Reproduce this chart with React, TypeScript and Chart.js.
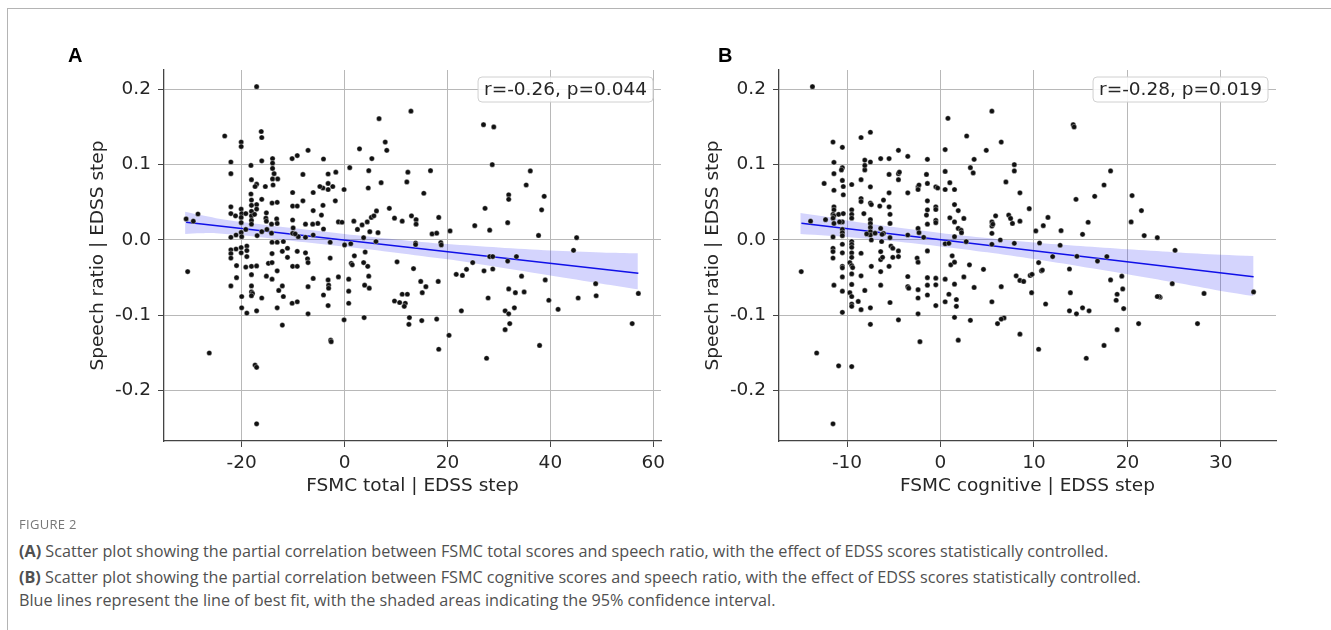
import React, { useEffect, useRef } from "react";
import { Chart, registerables } from "chart.js";

Chart.register(...registerables);

// ---------------- DATA ----------------
const yTicks = [-0.2, -0.1, 0, 0.1, 0.2];
const xTicksA = [-20, 0, 20, 40, 60];
const xTicksB = [-10, 0, 10, 20, 30];

const statsA = "r=-0.26, p=0.044";
const statsB = "r=-0.28, p=0.019";

const pointsA: [number, number][] = [
  [-20.1,0.130],[-20.1,0.124],[-22.1,0.1035],[-22.1,0.088],[-18.2,0.099],[-16.1,0.105],
  [-14,0.108],[-14,0.102],[-14,0.095],[-13.7,0.088],[-14,0.081],[-13,0.081],
  [-10.2,0.108],[-9.2,0.112],[-7.1,0.119],[-4.1,0.1075],[-8.1,0.087],
  [-3.2,0.0876],[-1.7,0.090],[-3.2,0.075],[-2.3,0.071],[-3.2,0.067],[-4.2,0.069],[-4.8,0.071],
  [1.0,0.096],[2.9,0.121],[5.3,0.108],[4.7,0.092],[7.9,0.130],[8.2,0.119],[7.1,0.076],[4.6,0.069],[12.3,0.090],[12.1,0.077],[-0.1,0.067],
  [-18.1,0.080],[-17.1,0.074],[-17.4,0.071],[-15.4,0.071],[-13.9,0.073],
  [-18.2,0.061],[-18.1,0.053],[-16.1,0.054],[-17.1,0.047],[-18.1,0.046],[-17.1,0.041],[-18.1,0.038],
  [-22.1,0.044],[-22.1,0.035],[-21.2,0.032],[-20.1,0.041],[-20,0.035],[-20.1,0.030],[-19.2,0.035],[-18.1,0.032],[-17.5,0.034],
  [-20.1,0.023],[-19.2,0.014],[-20.1,0.010],[-22.1,0.0035],[-21.1,0.0066],[-20,0.0044],[-18.1,0.026],[-18.1,0.021],
  [-15.2,0.036],[-15.3,0.029],[-15.2,0.025],[-15.1,0.014],[-16.1,0.011],[-17,0.0058],[-14.2,0.021],[-14.2,0.009],
  [-13.1,0.050],[-14.1,0.049],[-13.2,0.028],[-13.1,0.022],
  [-10.1,0.063],[-10.1,0.045],[-9.2,0.045],[-8.1,0.052],[-6.1,0.063],[-6.1,0.039],[-4.2,0.046],[-4.1,0.0146],[-5.2,0.022],[-6.2,0.021],[-7.6,0.021],[-10.1,0.0265],[-10,0.016],[-10.1,0.0088],[-9.0,0.0044],[-9.6,0.008],[-7.6,0.0035],[-6.1,0.0066],
  [-1.8,0.052],[-4.5,0.033],[-1.2,0.024],[-0.5,0.0235],
  [1.8,0.025],[2.5,0.014],[3.4,0.020],[4.4,0.024],[5.2,0.030],[5.7,0.032],[6.2,0.0385],[4.9,0.011],[6.5,0.0097],[8.7,0.042],[9.7,0.029],[11.2,0.025],[13,0.032],
  [3.7,0.003],[6.1,-0.002],[1.2,-0.005],[0.0,-0.0066],[-2.8,-0.003],
  [-22.1,-0.013],[-22.1,-0.018],[-22.1,-0.024],[-21.1,-0.012],[-20.1,-0.010],[-20.1,-0.017],[-19,-0.008],[-19,-0.014],[-19,-0.022],[-21,-0.034],[-21,-0.050],[-22.1,-0.061],
  [-19.2,-0.036],[-18.1,-0.035],[-17.1,-0.0345],[-18.1,-0.046],[-18.1,-0.061],[-18.1,-0.069],[-17.9,-0.071],[-18.1,-0.074],[-16.1,-0.077],[-17.1,-0.094],[-19,-0.097],
  [-14.8,-0.031],[-14.1,-0.030],[-14.1,-0.018],[-13.1,-0.003],[-14.1,-0.003],[-11.9,-0.002],[-12.1,-0.015],[-11.1,-0.011],[-11.1,-0.023],[-12.1,-0.061],[-12.8,-0.067],[-11.9,-0.075],[-13.1,-0.041],[-14.1,-0.052],[-15.2,-0.048],[-13.1,-0.090],[-12.1,-0.113],[-10.2,-0.084],[-9.2,-0.082],[-7.1,-0.098],
  [-10.1,-0.035],[-9.2,-0.035],[-9.2,-0.015],[-7.6,-0.017],[-7.2,-0.025],[-7.1,-0.030],[-6.1,-0.051],[-7.1,-0.062],
  [-4.1,-0.073],[-3.2,-0.053],[-3.1,-0.060],[-3.1,-0.064],[-3.2,-0.087],[-2.8,-0.024],[-2.7,-0.133],[-1.2,-0.049],[-0.1,-0.106],[0.8,-0.052],[0.8,-0.068],[0.8,-0.084],[1.3,-0.031],[1.9,-0.021],[1.5,-0.033],[3.7,-0.030],[3.9,-0.060],[4.5,-0.035],[4.7,-0.048],[4.8,-0.064],[3.8,-0.103],[10.2,-0.029],[9.7,-0.081],[10.7,-0.083],[11.2,-0.072],[12.2,-0.072],[11.8,-0.084],[11.6,-0.088],[12.6,-0.103],[12.5,-0.112],[13.4,-0.038],
  [-30.8,0.028],[-29.4,0.025],[-28.5,0.0345],[-17.1,0.2035],[-23.3,0.138],[-16.2,0.144],[-16.1,0.136],[6.7,0.161],
  [12.9,0.171],[16.7,0.092],[15.4,0.062],[27.0,0.153],[29.0,0.150],[28.7,0.100],[36.1,0.0916],[35.3,0.073],[31.9,0.060],[31.9,0.054],[38.8,0.058],[38.3,0.040],[27.3,0.042],[31.7,0.023],[28.2,0.013],[25.3,0.019],[20.5,0.012],[37.7,0.006],[45.1,0.003],[44.5,-0.0137],[13.9,0.027],[13.9,0.021],[18.3,0.030],[17.0,0.008],[17.9,0.009],[13.8,-0.004],[13.8,-0.006],[18.7,-0.0035],[18.8,-0.0066],[4.0,-0.016],[28.2,-0.022],[28.8,-0.022],[33.4,-0.022],
  [15.0,-0.107],[17.9,-0.105],[18.3,-0.145],[14.8,-0.055],[15.1,-0.070],[15.8,-0.062],[18.2,-0.055],[20.3,-0.1265],[21.7,-0.0456],[22.9,-0.047],[23.7,-0.039],[24.9,-0.030],[22.7,-0.094],[27.1,-0.041],[27.9,-0.077],[27.6,-0.157],[28.8,-0.0385],[31.7,-0.028],[34.4,-0.048],[31.9,-0.065],[33.2,-0.070],[34.9,-0.069],[31.2,-0.094],[31.9,-0.098],[33.0,-0.090],[32.1,-0.111],[31.2,-0.119],[37.9,-0.140],[39.0,-0.053],[39.7,-0.080],[41.5,-0.092],[45.4,-0.077],[48.8,-0.058],[48.9,-0.074],[55.9,-0.111],[57.1,-0.071],
  [-30.5,-0.042],[-26.3,-0.150],[-17.4,-0.166],[-17.1,-0.169],[-17.1,-0.244],[-2.6,-0.135],[-20,-0.075],[-20,-0.090],
];

const pointsB: [number, number][] = [
  [-11.5,0.130],[-10.5,0.123],[-11.4,0.103],[-10.5,0.096],[-10.6,0.093],[-11.4,0.088],[-12.45,0.075],
  [-10.5,0.079],[-10.4,0.071],[-11.4,0.066],[-10.4,0.060],
  [-11.4,0.044],[-11.4,0.040],[-11.5,0.034],[-11.4,0.032],[-11.5,0.029],[-10.9,0.034],[-10.4,0.035],[-10.5,0.024],[-10.8,0.024],[-11.4,0.022],[-12.3,0.027],
  [-11.5,0.004],[-10.5,0.014],[-10.5,0.0097],[-10.5,0.0057],[-9.5,0.040],[-9.5,0.034],[-9.5,0.029],
  [-8.2,0.035],[-8.5,0.055],[-8.5,0.051],[-7.5,0.049],[-7.4,0.047],[-6.5,0.045],[-6.1,0.053],[-5.5,0.044],[-5.4,0.034],[-5.4,0.022],[-6.4,0.0154],[-6.1,0.0088],[-5.4,0.003],[-6.25,0.0075],[-6.3,-0.002],
  [-7.5,0.027],[-7.5,0.022],[-7.5,0.0167],[-7.5,0.011],[-7.5,0.0066],[-7.4,0.0],[-7.9,0.008],[-7.0,0.009],
  [-9.5,0.0736],[-8.5,0.080],[-8.1,0.093],[-8.1,0.099],[-7.5,0.1035],[-7.5,0.0705],[-6.4,0.108],[-5.5,0.108],[-4.5,0.119],[-3.5,0.111],[-5.5,0.087],[-4.5,0.088],[-4.4,0.090],[-4.5,0.080],[-5.5,0.0626],[-3.5,0.0626],[-2.4,0.0705],[-2.3,0.073],[-2.4,0.067],[-1.4,0.107],[-1.5,0.087],[-1.4,0.075],[-0.5,0.0705],[-0.3,0.069],[-1.4,0.052],[-1.4,0.040],[-0.5,0.044],[-0.5,0.0405],[-0.5,0.026],[-0.5,0.023],[-1.5,0.033],[-2.4,0.0154],[-2.3,0.0097],[-3.5,0.0066],[-1.8,0.0035],[-1.4,0.021],
  [0.5,0.120],[0.5,0.091],[1.0,0.076],[0.5,0.067],[1.5,0.067],[1.5,0.047],[1.9,0.039],[1.0,0.0295],[1.5,0.024],[2.5,0.0286],[1.9,0.0154],[2.2,0.013],[2.25,0.0097],[0.5,-0.005],[0.9,-0.0044],[1.5,0.0044],
  [3.2,0.096],[3.5,0.089],[3.6,0.107],[4.9,0.119],[6.5,0.130],[7.9,0.100],[7.9,0.0916],[7.0,0.077],[8.5,0.0626],[7.7,0.022],[5.5,0.024],[5.5,0.0185],[5.9,0.032],[5.5,0.0088],[7.3,0.033],[7.5,0.0286],[6.4,0.0],[7.9,-0.0044],[5.5,-0.0057],[4.6,-0.039],[2.75,-0.0022],
  [-11.5,-0.011],[-11.5,-0.0154],[-11.5,-0.024],[-11.4,-0.060],
  [-10.5,-0.0057],[-10.5,-0.017],[-10.5,-0.035],[-10.5,-0.037],[-10.5,-0.049],[-10.5,-0.068],[-10.5,-0.096],
  [-9.5,-0.002],[-9.5,-0.0057],[-9.5,-0.0097],[-9.5,-0.017],[-9.5,-0.023],[-9.7,-0.030],[-9.5,-0.034],[-9.4,-0.0366],[-9.5,-0.045],[-9.5,-0.059],[-9.7,-0.070],[-9.5,-0.075],[-9.5,-0.085],[-9.5,-0.088],
  [-8.8,-0.0815],[-8.5,-0.0925],[-8.5,-0.0476],[-8.1,-0.067],[-7.5,-0.090],[-7.5,-0.112],
  [-8.5,-0.0176],[-7.4,-0.035],[-6.4,-0.042],[-6.4,-0.060],[-6.4,-0.0154],[-5.5,-0.035],[-5.4,-0.083],[-6.4,-0.026],[-6.2,-0.023],[-5.3,-0.008],[-5.1,-0.011],[-5.1,-0.023],[-4.5,-0.0145],[-4.5,-0.022],[-3.5,-0.0485],[-3.5,-0.062],[-3.4,-0.064],[-4.5,-0.106],
  [-2.5,-0.024],[-2.4,-0.0295],[-2.4,-0.066],[-2.4,-0.077],[-2.4,-0.098],
  [-1.4,-0.0145],[-1.4,-0.050],[-1.4,-0.060],[-1.4,-0.073],[-0.5,-0.0507],[-0.5,-0.0595],[-0.5,-0.087],
  [0.5,-0.052],[0.5,-0.082],[0.9,-0.072],[1.1,-0.033],[1.25,-0.021],[1.5,-0.0295],[1.5,-0.0586],[1.7,-0.079],[1.7,-0.088],[2.5,-0.049],[3.6,-0.063],[3.1,-0.033],[5.5,-0.082],[6.5,-0.062],[6.8,-0.1035],[6.5,-0.105],[6.1,-0.111],[8.5,-0.125],[1.5,-0.1026],[3.2,-0.1066],[8.1,-0.0476],[8.5,-0.0537],
  [-13.7,0.2035],[-13.9,0.025],[-8.5,0.136],[-7.5,0.143],[-8.1,0.106],[0.8,0.1615],[2.8,0.138],[5.5,0.171],
  [9.5,0.0416],[5.6,0.021],[8.5,0.025],[10.2,0.012],[11.0,0.019],[11.5,0.030],[12.9,0.0124],[10.6,-0.004],[12.8,-0.007],[12.0,-0.022],[14.6,-0.0217],[17.8,-0.022],[14.2,0.153],[14.3,0.150],[14.5,0.054],[15.2,0.0075],[15.8,0.0235],[16.5,0.058],[17.5,0.073],[18.2,0.0916],[20.5,0.059],[21.5,0.039],[20.4,0.024],[21.8,0.0058],[23.2,0.003],[25.1,-0.0137],
  [-14.9,-0.042],[-13.25,-0.150],[-10.9,-0.167],[-9.5,-0.168],[-11.5,-0.244],[-2.2,-0.135],[1.9,-0.133],
  [8.9,-0.055],[9.6,-0.047],[9.8,-0.0456],[9.75,-0.070],[10.5,-0.030],[10.8,-0.041],[10.9,-0.040],[11.25,-0.085],[10.5,-0.145],[13.8,-0.0385],[13.9,-0.070],[13.8,-0.094],[14.55,-0.098],[15.2,-0.090],[15.9,-0.094],[15.6,-0.157],[16.8,-0.028],[18.2,-0.053],[17.5,-0.140],[18.9,-0.072],[18.8,-0.080],[18.9,-0.119],[19.4,-0.048],[19.5,-0.065],[19.6,-0.091],[21.2,-0.111],[23.5,-0.076],[23.4,-0.075],[23.2,-0.075],[24.8,-0.058],[27.5,-0.111],[28.2,-0.071],[33.5,-0.069],
];

const fitAX = [-30.8, 57.1];
const fitAY = [0.0235, -0.0443];
const bandAX = [-31, -28, -25, -20, -10, 0, 10, 20, 30, 40, 50, 57];
const bandAUpper = [0.0376, 0.0330, 0.0290, 0.0240, 0.0158, 0.0080, 0.0008, -0.0055, -0.0100, -0.0140, -0.0165, -0.0177];
const bandALower = [0.0080, 0.0088, 0.0090, 0.0062, -0.0012, -0.0086, -0.0168, -0.0257, -0.0362, -0.0471, -0.0580, -0.0655];

const fitBX = [-14.88, 33.5];
const fitBY = [0.0222, -0.0487];
const bandBX = [-15, -12, -10, -5, 0, 5, 10, 15, 20, 25, 30, 33.5];
const bandBUpper = [0.0358, 0.0305, 0.0260, 0.0172, 0.0094, 0.0026, -0.0033, -0.0081, -0.0124, -0.0162, -0.0196, -0.0212];
const bandBLower = [0.0078, 0.0055, 0.0040, -0.0018, -0.0086, -0.0164, -0.0253, -0.0351, -0.0454, -0.0562, -0.0676, -0.0744];

// ---------------- CHART ----------------
const FONT = "'DejaVu Sans', sans-serif";
const TEXT = "#262626";

type PanelCfg = {
  letter: string;
  letterX: number;
  points: [number, number][];
  fitX: number[];
  fitY: number[];
  bandX: number[];
  bandUpper: number[];
  bandLower: number[];
  xMin: number;
  xMax: number;
  xTicks: number[];
  xTitle: string;
  stats: string;
};

const overlayPlugin = {
  id: "overlay",
  afterDraw(chart: any, _args: any, opts: any) {
    const { ctx, chartArea } = chart;
    ctx.save();
    ctx.font = "bold 20px 'Liberation Sans', Arial, sans-serif";
    ctx.fillStyle = "#000";
    ctx.textAlign = "left";
    ctx.textBaseline = "alphabetic";
    ctx.fillText(opts.letter, opts.letterX, 62);
    ctx.font = `18.5px ${FONT}`;
    const tw = ctx.measureText(opts.stats).width;
    const w = tw + 12;
    const h = 25;
    const right = chartArea.right - 8;
    const top = chartArea.top + 7;
    const left = right - w;
    ctx.beginPath();
    ctx.roundRect(left, top, w, h, 4);
    ctx.fillStyle = "rgba(255,255,255,0.85)";
    ctx.fill();
    ctx.strokeStyle = "#d0d0d0";
    ctx.lineWidth = 1;
    ctx.stroke();
    ctx.fillStyle = TEXT;
    ctx.textAlign = "center";
    ctx.textBaseline = "middle";
    ctx.fillText(opts.stats, left + w / 2, top + h / 2 + 1);
    ctx.restore();
  },
};

function Panel({ cfg, left }: { cfg: PanelCfg; left: number }) {
  const ref = useRef<HTMLCanvasElement | null>(null);
  useEffect(() => {
    if (!ref.current) return;
    const chart = new Chart(ref.current, {
      type: "scatter",
      data: {
        datasets: [
          {
            type: "scatter",
            data: cfg.points.map(([x, y]) => ({ x, y })),
            backgroundColor: "#111",
            borderColor: "rgba(255,255,255,0.7)",
            borderWidth: 0.5,
            pointRadius: 2.6,
          } as any,
          {
            type: "line",
            data: cfg.fitX.map((x, i) => ({ x, y: cfg.fitY[i] })),
            borderColor: "#1010e8",
            borderWidth: 1.5,
            pointRadius: 0,
            fill: false,
          } as any,
          {
            type: "line",
            data: cfg.bandX.map((x, i) => ({ x, y: cfg.bandUpper[i] })),
            borderColor: "rgba(0,0,0,0)",
            borderWidth: 0,
            pointRadius: 0,
            backgroundColor: "rgba(40,40,245,0.2)",
            fill: "+1",
            tension: 0.3,
          } as any,
          {
            type: "line",
            data: cfg.bandX.map((x, i) => ({ x, y: cfg.bandLower[i] })),
            borderColor: "rgba(0,0,0,0)",
            borderWidth: 0,
            pointRadius: 0,
            fill: false,
            tension: 0.3,
          } as any,
        ],
      },
      options: {
        animation: false,
        responsive: false,
        events: [],
        layout: { padding: { left: 0, right: 19, top: 70, bottom: 19 } },
        plugins: {
          legend: { display: false },
          tooltip: { enabled: false },
          overlay: { letter: cfg.letter, letterX: cfg.letterX, stats: cfg.stats },
        } as any,
        scales: {
          x: {
            type: "linear",
            min: cfg.xMin,
            max: cfg.xMax,
            afterBuildTicks: (s: any) => {
              s.ticks = cfg.xTicks.map((v) => ({ value: v }));
            },
            afterFit: (s: any) => {
              s.height = 60;
            },
            ticks: {
              font: { family: FONT, size: 18.5 },
              color: TEXT,
              padding: 5,
              callback: (v: any) => String(v),
            },
            grid: { color: "#b8b8b8", lineWidth: 1, tickLength: 6, tickColor: "#444" },
            border: { display: true, color: "#444", width: 1.3 },
            title: {
              display: true,
              text: cfg.xTitle,
              font: { family: FONT, size: 18.5 },
              color: TEXT,
              padding: { top: 0, bottom: 4 },
            },
          },
          y: {
            type: "linear",
            min: -0.2668,
            max: 0.2256,
            afterBuildTicks: (s: any) => {
              s.ticks = yTicks.map((v) => ({ value: v }));
            },
            afterFit: (s: any) => {
              s.width = 164;
            },
            ticks: {
              font: { family: FONT, size: 18.5 },
              color: TEXT,
              padding: 7,
              callback: (v: any) => Number(v).toFixed(1),
            },
            grid: { color: "#b8b8b8", lineWidth: 1, tickLength: 6, tickColor: "#444" },
            border: { display: true, color: "#444", width: 1.3 },
            title: {
              display: true,
              text: "Speech ratio | EDSS step",
              font: { family: FONT, size: 18.5 },
              color: TEXT,
              padding: { top: 87, bottom: 0 },
            },
          },
        },
      },
      plugins: [overlayPlugin],
    });
    return () => chart.destroy();
  }, [cfg]);
  return (
    <canvas
      ref={ref}
      width={680}
      height={520}
      style={{ position: "absolute", left, top: 0, width: 680, height: 520 }}
    />
  );
}

const cfgA: PanelCfg = {
  letter: "A",
  letterX: 68,
  points: pointsA,
  fitX: fitAX,
  fitY: fitAY,
  bandX: bandAX,
  bandUpper: bandAUpper,
  bandLower: bandALower,
  xMin: -35.1,
  xMax: 61.5,
  xTicks: xTicksA,
  xTitle: "FSMC total | EDSS step",
  stats: statsA,
};

const cfgB: PanelCfg = {
  letter: "B",
  letterX: 103,
  points: pointsB,
  fitX: fitBX,
  fitY: fitBY,
  bandX: bandBX,
  bandUpper: bandBUpper,
  bandLower: bandBLower,
  xMin: -17.28,
  xMax: 35.9,
  xTicks: xTicksB,
  xTitle: "FSMC cognitive | EDSS step",
  stats: statsB,
};

const capFont = "'Open Sans', 'Noto Sans', sans-serif";
const capLine: React.CSSProperties = {
  position: "absolute",
  left: 19,
  whiteSpace: "nowrap",
  fontFamily: capFont,
  fontSize: 16.2,
  lineHeight: "24px",
  color: "#505050",
};

export default function App() {
  return (
    <div style={{ position: "absolute", left: 0, top: 0, width: 1331, height: 630, background: "#fff", overflow: "hidden" }}>
      <div
        style={{
          position: "absolute",
          left: 7,
          top: 8,
          width: 1330,
          height: 640,
          borderTop: "1px solid #b4b4b4",
          borderLeft: "1px solid #b4b4b4",
        }}
      />
      <Panel cfg={cfgA} left={0} />
      <Panel cfg={cfgB} left={615} />
      <div style={{ ...capLine, top: 512, fontSize: 13, color: "#777", letterSpacing: 0.3 }}>FIGURE 2</div>
      <div style={{ ...capLine, top: 539 }}>
        <b>(A)</b> Scatter plot showing the partial correlation between FSMC total scores and speech ratio, with the effect of EDSS scores statistically controlled.
      </div>
      <div style={{ ...capLine, top: 565 }}>
        <b>(B)</b> Scatter plot showing the partial correlation between FSMC cognitive scores and speech ratio, with the effect of EDSS scores statistically controlled.
      </div>
      <div style={{ ...capLine, top: 588 }}>
        Blue lines represent the line of best fit, with the shaded areas indicating the 95% confidence interval.
      </div>
    </div>
  );
}
